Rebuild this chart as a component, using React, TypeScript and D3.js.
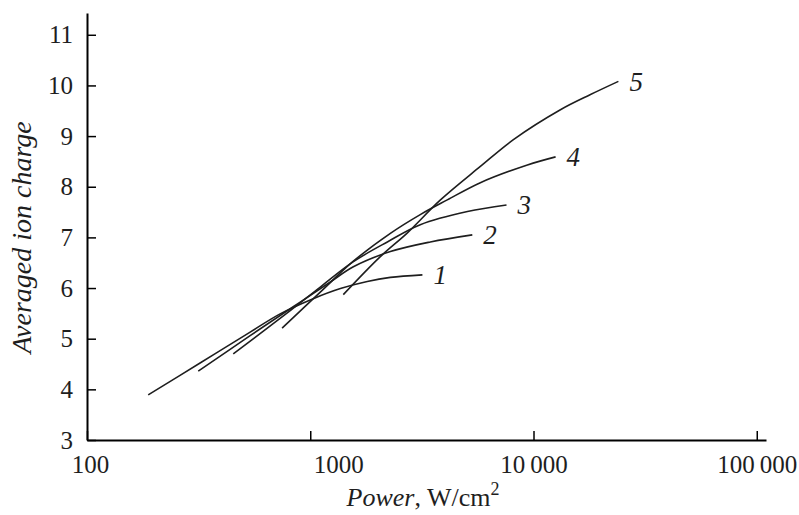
import React, { useEffect, useRef } from 'react';
import * as d3 from 'd3';

// curve numbers as printed next to each line
const curveIds = ["1", "2", "3", "4", "5"];

// power in W/cm2 and averaged ion charge
const power1 = [188, 321, 538, 733, 1031, 1365, 1800, 2285, 3180];
const charge1 = [3.89, 4.52, 5.13, 5.49, 5.79, 5.99, 6.13, 6.21, 6.26];
const power2 = [315, 538, 839, 1230, 1560, 2285, 3450, 5320];
const charge2 = [4.36, 5.06, 5.63, 6.12, 6.42, 6.72, 6.91, 7.05];
const power3 = [452, 789, 1109, 1560, 2215, 3110, 5060, 7570];
const charge3 = [4.7, 5.51, 6.02, 6.52, 6.91, 7.25, 7.51, 7.64];
const power4 = [748, 1109, 1560, 2285, 3110, 4110, 5780, 9390, 12560];
const charge4 = [5.21, 5.92, 6.53, 7.08, 7.45, 7.74, 8.08, 8.43, 8.59];
const power5 = [1406, 2060, 2724, 3830, 5780, 8130, 13200, 18000, 24000];
const charge5 = [5.87, 6.62, 7.09, 7.74, 8.4, 8.93, 9.52, 9.82, 10.08];

const xTicks = [100, 1000, 10000, 100000];
const xTickLabels = ["100", "1000", "10\u2009000", "100\u2009000"];
const yTicks = [3, 4, 5, 6, 7, 8, 9, 10, 11];

const App = () => {
  const ref = useRef<SVGSVGElement>(null);

  useEffect(() => {
    const svg = d3.select(ref.current);
    const ink = "#1e1e1e";
    const font = "'Liberation Serif', 'Times New Roman', serif";

    svg.selectAll("*").remove();

    const x = d3.scaleLog()
      .domain([100, 110000])
      .range([87, 766]);

    const y = d3.scaleLinear()
      .domain([3, 11.43])
      .range([440, 13]);

    const series = [
      [power1, charge1],
      [power2, charge2],
      [power3, charge3],
      [power4, charge4],
      [power5, charge5],
    ].map(([p, c], i) => ({
      id: curveIds[i],
      points: p.map((v, j) => [v, c[j]] as [number, number]),
    }));

    const line = d3.line<[number, number]>()
      .x(d => x(d[0]))
      .y(d => y(d[1]))
      .curve(d3.curveCatmullRom.alpha(0.5));

    svg.append("g")
      .attr("fill", "none")
      .attr("stroke", ink)
      .attr("stroke-width", 1.6)
      .selectAll("path")
      .data(series)
      .join("path")
        .attr("d", d => line(d.points));

    svg.append("g")
      .attr("font-family", font)
      .attr("font-style", "italic")
      .attr("font-size", 27)
      .attr("fill", ink)
      .selectAll("text")
      .data(series)
      .join("text")
        .attr("x", d => x(d.points[d.points.length - 1][0]) + 11)
        .attr("y", d => y(d.points[d.points.length - 1][1]))
        .attr("dy", "0.34em")
        .text(d => d.id);

    // x axis, ticks pointing up into the plot
    svg.append("g")
      .attr("transform", `translate(0,${y(3)})`)
      .call(d3.axisTop(x).tickValues(xTicks).tickSize(9).tickSizeOuter(0).tickFormat((d, i) => xTickLabels[i]))
      .call(g => g.select(".domain").attr("stroke-width", 2))
      .call(g => g.selectAll(".tick line").attr("stroke-width", 1.5))
      .call(g => g.selectAll(".tick text")
        .attr("y", 25)
        .attr("dy", "0.32em")
        .attr("font-size", 25)
        .attr("font-family", font)
        .attr("fill", ink))
      .call(g => g.selectAll(".tick text").filter(d => d === 1000).attr("x", 28))
      .call(g => g.selectAll(".tick text").filter(d => d === 100).attr("x", 3));

    // y axis, ticks pointing right into the plot
    svg.append("g")
      .attr("transform", `translate(${x(100)},0)`)
      .call(d3.axisRight(y).tickValues(yTicks).tickSize(9).tickSizeOuter(0).tickFormat(d3.format("d")))
      .call(g => g.select(".domain").attr("stroke-width", 2))
      .call(g => g.selectAll(".tick line").attr("stroke-width", 1.5))
      .call(g => g.selectAll(".tick text")
        .attr("x", -14)
        .attr("text-anchor", "end")
        .attr("font-size", 25)
        .attr("font-family", font)
        .attr("fill", ink));

    svg.append("text")
      .attr("transform", `translate(31,${(y(3) + y(11)) / 2}) rotate(-90)`)
      .attr("text-anchor", "middle")
      .attr("font-family", font)
      .attr("font-style", "italic")
      .attr("font-size", 28)
      .attr("fill", ink)
      .text("Averaged ion charge");

    const title = svg.append("text")
      .attr("x", 423)
      .attr("y", 506)
      .attr("text-anchor", "middle")
      .attr("font-family", font)
      .attr("font-size", 26)
      .attr("fill", ink);
    title.append("tspan").attr("font-style", "italic").text("Power");
    title.append("tspan").text(", W/cm");
    title.append("tspan").attr("font-size", 18).attr("dy", -11).text("2");
  }, []);

  return (
    <svg
      ref={ref}
      width={799}
      height={515}
      style={{ position: "absolute", left: 0, top: 0, background: "#fff" }}
    ></svg>
  );
};

export default App;
